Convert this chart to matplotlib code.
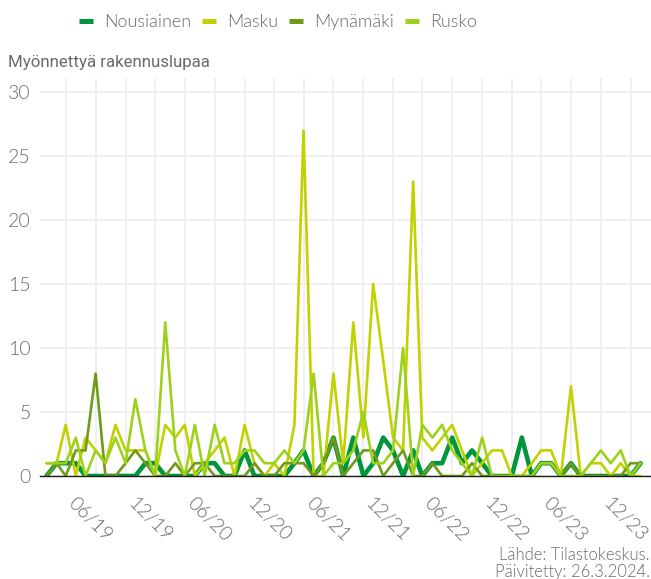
import matplotlib.pyplot as plt
import matplotlib.dates as mdates
import matplotlib.transforms as mtransforms
from matplotlib.lines import Line2D
import pandas as pd

# monthly data, 1/2019 - 1/2024
months = pd.date_range('2019-01-01', periods=61, freq='MS')

nousiainen = [0, 1, 1, 1, 0, 0, 0, 0, 0, 0, 1, 1, 0, 0, 0, 0, 1, 1, 0, 0,
              2, 0, 0, 0, 0, 1, 2, 0, 1, 3, 0, 3, 0, 1, 3, 2, 0, 2, 0, 1,
              1, 3, 1, 2, 1, 0, 0, 0, 3, 0, 1, 1, 0, 1, 0, 0, 0, 0, 0, 0, 1]
masku = [1, 1, 4, 0, 3, 2, 1, 4, 2, 2, 2, 0, 4, 3, 4, 0, 1, 2, 3, 0,
         4, 1, 0, 1, 0, 4, 27, 0, 0, 8, 1, 12, 3, 15, 9, 3, 2, 23, 3, 2,
         3, 4, 2, 0, 1, 2, 2, 0, 0, 1, 2, 2, 0, 7, 0, 1, 1, 0, 1, 0, 0]
mynamaki = [0, 1, 0, 2, 2, 8, 0, 0, 1, 2, 1, 0, 0, 1, 0, 1, 1, 0, 0, 0,
            0, 1, 0, 0, 1, 1, 1, 0, 1, 3, 0, 1, 2, 2, 0, 1, 2, 0, 0, 1,
            0, 0, 0, 1, 0, 0, 0, 0, 0, 0, 1, 1, 0, 1, 0, 0, 0, 0, 0, 1, 1]
rusko = [1, 1, 1, 3, 0, 2, 1, 3, 1, 6, 2, 0, 12, 2, 0, 4, 0, 4, 1, 1,
         2, 2, 1, 1, 2, 1, 2, 8, 0, 1, 1, 2, 5, 1, 1, 2, 10, 0, 4, 3,
         4, 2, 1, 0, 3, 0, 0, 0, 0, 0, 1, 1, 0, 0, 0, 1, 2, 1, 2, 0, 1]

names = ['Nousiainen', 'Masku', 'Mynämäki', 'Rusko']
colors = ['#00963c', '#c2d100', '#6f9a1b', '#9dd21c']
widths = [3.3, 1.9, 1.9, 1.9]
series = [nousiainen, masku, mynamaki, rusko]

plt.rcParams['font.family'] = ['Lato', 'DejaVu Sans']
grey = '#6a6a6a'
W = 300  # Lato Light

fig = plt.figure(figsize=(6.51, 5.79), dpi=100)
ax = fig.add_axes([40 / 651, 103 / 579, 611 / 651, 398 / 579])

for vals, name, c, lw in zip(series, names, colors, widths):
    ax.plot(months, vals, color=c, lw=lw, label=name,
            solid_joinstyle='round', solid_capstyle='round')

ax.set_ylim(0, 31.1)
ax.set_xlim(pd.Timestamp('2018-12-12'), pd.Timestamp('2024-02-02'))
ax.set_yticks(range(0, 31, 5))

ax.xaxis.set_major_locator(mdates.MonthLocator(bymonth=[6, 12]))
ax.xaxis.set_minor_locator(mdates.MonthLocator(bymonth=[3, 9]))
ax.xaxis.set_major_formatter(mdates.DateFormatter('%m/%y'))

ax.grid(True, which='both', axis='x', color='#efefef', lw=1.3)
ax.grid(True, which='major', axis='y', color='#efefef', lw=1.3)
ax.set_axisbelow(True)
for s in ax.spines.values():
    s.set_visible(False)
ax.axhline(0, color='#1a1a1a', lw=1.0, clip_on=False, zorder=5)

ax.tick_params(axis='both', which='both', length=0, labelcolor=grey, labelsize=14)
ax.tick_params(axis='y', pad=6.5)
ax.tick_params(axis='x', pad=13.5)
shift = mtransforms.ScaledTranslation(-6 / 100, 0, fig.dpi_scale_trans)
for lab in ax.get_xticklabels():
    lab.set_rotation(-45)
    lab.set_ha('center')
    lab.set_va('top')
    lab.set_fontweight(W)
    lab.set_transform(lab.get_transform() + shift)
for lab in ax.get_yticklabels():
    lab.set_fontweight(W)

handles = [Line2D([], [], color=c, lw=3.6, solid_capstyle='butt') for c in colors]
leg = fig.legend(handles, names, loc='center', bbox_to_anchor=(0.427, 1 - 22 / 579),
                 ncol=4, frameon=False, handlelength=0.78,
                 handletextpad=0.62, columnspacing=0.6,
                 prop={'family': ['Lato', 'DejaVu Sans'], 'weight': W, 'size': 13})
for t in leg.get_texts():
    t.set_color(grey)

fig.text(8 / 651, 1 - 62 / 579, 'Myönnettyä rakennuslupaa', va='center', ha='left',
         fontsize=12.2, color=grey, family=['Roboto', 'DejaVu Sans'])
fig.text(0.998, 1 - 555 / 579, 'Lähde: Tilastokeskus.', va='center', ha='right',
         fontsize=12, color=grey, fontweight=W)
fig.text(0.998, 1 - 572 / 579, 'Päivitetty: 26.3.2024.', va='center', ha='right',
         fontsize=12, color=grey, fontweight=W)

fig.savefig('out.png', dpi=100)
